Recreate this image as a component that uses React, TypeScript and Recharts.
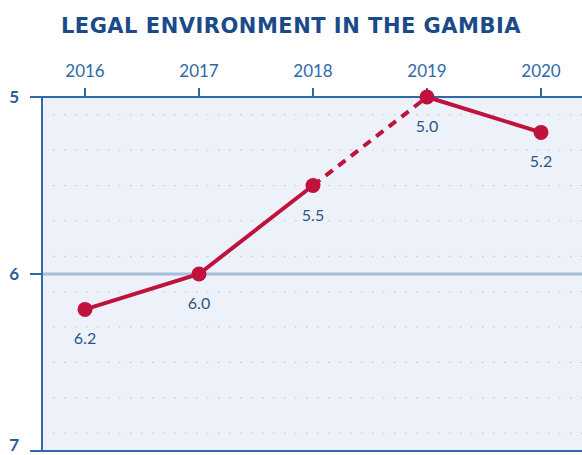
import React from "react";
import { LineChart, Line, XAxis, YAxis, CartesianGrid, ReferenceLine, LabelList } from "recharts";

const years = ["2016", "2017", "2018", "2019", "2020"];
const scores = [6.2, 6.0, 5.5, 5.0, 5.2];
const solidA = [6.2, 6.0, 5.5, null, null];
const dashedMid = [null, null, 5.5, 5.0, null];
const solidB = [null, null, null, 5.0, 5.2];
const yTicks = [5, 6, 7];
const gridValues = [5.1, 5.2, 5.3, 5.4, 5.5, 5.6, 5.7, 5.8, 5.9, 6.1, 6.2, 6.3, 6.4, 6.5, 6.6, 6.7, 6.8, 6.9];

const data = years.map((y, i) => ({
  year: y,
  score: scores[i],
  a: solidA[i],
  d: dashedMid[i],
  b: solidB[i],
}));

const RED = "#c0123c";
const AXIS = "#2f6aa8";
const FONT = "Lato, 'Open Sans', sans-serif";

const renderLabel = (props: any) => {
  const { x, y, value } = props;
  if (value == null) return null;
  return (
    <text x={x} y={y + 31} textAnchor="middle" dominantBaseline="middle" fill="#2a5585" fontSize={16} fontFamily={FONT}>
      {Number(value).toFixed(1)}
    </text>
  );
};

export default function App() {
  return (
    <div style={{ position: "absolute", left: 0, top: 0, width: 582, height: 455, background: "#fff" }}>
      <div
        style={{
          position: "absolute",
          left: 0,
          top: 12,
          width: 582,
          textAlign: "center",
          fontFamily: "'DejaVu Sans', sans-serif",
          fontWeight: 700,
          fontSize: 21,
          color: "#1b4a8a",
          letterSpacing: 0.5,
          lineHeight: "28px",
        }}
      >
        LEGAL ENVIRONMENT IN THE GAMBIA
      </div>
      <LineChart width={582} height={455} data={data} margin={{ top: 0, right: 0, bottom: 4, left: 0 }}>
        <CartesianGrid
          fill="#edf2fa"
          vertical={false}
          horizontalValues={gridValues}
          stroke="#b8c4d6"
          strokeDasharray="1.5 9.5"
        />
        <ReferenceLine y={6} stroke="#a6c0da" strokeWidth={3} />
        <ReferenceLine y={7} stroke={AXIS} strokeWidth={2} />
        <XAxis
          dataKey="year"
          orientation="top"
          height={97}
          padding={{ left: 43, right: 41 }}
          axisLine={{ stroke: AXIS, strokeWidth: 2 }}
          tickLine={{ stroke: AXIS, strokeWidth: 2 }}
          tickSize={9}
          tickMargin={11}
          tick={{ fill: AXIS, fontSize: 17, fontFamily: FONT }}
        />
        <YAxis
          reversed
          domain={[5, 7]}
          ticks={yTicks}
          width={42}
          axisLine={{ stroke: AXIS, strokeWidth: 2 }}
          tickLine={{ stroke: AXIS, strokeWidth: 2 }}
          tickSize={12}
          tickMargin={11}
          tick={{ fill: "#2a5d9a", fontSize: 17, fontWeight: 700, fontFamily: FONT }}
        />
        <Line dataKey="d" stroke={RED} strokeWidth={4} strokeDasharray="9 7" dot={false} isAnimationActive={false} connectNulls={false} />
        <Line dataKey="a" stroke={RED} strokeWidth={4} dot={false} isAnimationActive={false} connectNulls={false} />
        <Line dataKey="b" stroke={RED} strokeWidth={4} dot={false} isAnimationActive={false} connectNulls={false} />
        <Line
          dataKey="score"
          stroke="none"
          dot={{ r: 7.5, fill: RED, stroke: RED, strokeWidth: 0 }}
          isAnimationActive={false}
        >
          <LabelList dataKey="score" content={renderLabel} />
        </Line>
      </LineChart>
    </div>
  );
}
